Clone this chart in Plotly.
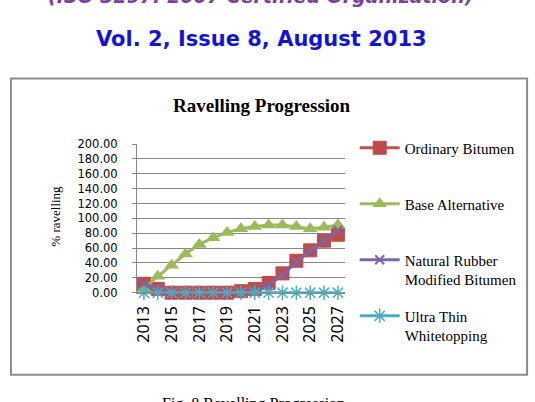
import plotly.graph_objects as go

years = list(range(2013, 2028))
ordinary_bitumen = [12, 5, 0, 0, 0, 0, 0, 2, 5, 13, 26, 43, 57, 70, 78]
base_alternative = [5, 22, 37, 52, 65, 74, 81, 86, 89, 91, 91, 89, 86, 88, 91]
natural_rubber = [12, 5, 0, 0, 0, 0, 0, 0, 2, 10, 24, 41, 56, 69, 84]
ultra_thin = [0] * 15
x_tick_years = [2013, 2015, 2017, 2019, 2021, 2023, 2025, 2027]
y_ticks = [0, 20, 40, 60, 80, 100, 120, 140, 160, 180, 200]

W, H = 535, 402
def px(x):
    return x / W
def py(y):
    return 1 - y / H

fig = go.Figure()
fig.add_trace(go.Scatter(
    x=years, y=ordinary_bitumen, name="Ordinary Bitumen<br> ", mode="lines+markers",
    line=dict(color="#C0504D", width=3),
    marker=dict(symbol="square", size=13, color="#BE4B48", line=dict(color="#BE4B48", width=1)),
    cliponaxis=False, legendgroup="a"))
fig.add_trace(go.Scatter(
    x=years, y=base_alternative, name="Base Alternative<br> ", mode="lines+markers",
    line=dict(color="#9BBB59", width=3),
    marker=dict(symbol="triangle-up", size=13, color="#9BBB59"),
    cliponaxis=False, legendgroup="b"))
fig.add_trace(go.Scatter(
    x=years, y=natural_rubber, name="Natural Rubber<br>Modified Bitumen", mode="lines+markers",
    line=dict(color="#8064A2", width=3),
    marker=dict(symbol="x-thin-open", size=9, line=dict(color="#8064A2", width=2)),
    cliponaxis=False, legendgroup="c"))
fig.add_trace(go.Scatter(
    x=years, y=ultra_thin, name="Ultra Thin<br>Whitetopping", mode="lines+markers",
    line=dict(color="#4BACC6", width=3),
    marker=dict(symbol="asterisk-open", size=12, line=dict(color="#4BACC6", width=1.5)),
    cliponaxis=False, legendgroup="d"))

fig.update_layout(
    width=W, height=H, autosize=False,
    margin=dict(l=0, r=0, t=0, b=0),
    paper_bgcolor="white", plot_bgcolor="white",
    showlegend=True,
    legend=dict(x=px(355), y=py(129), xanchor="left", yanchor="top",
                font=dict(family="Liberation Serif", size=15, color="#000"),
                traceorder="grouped", tracegroupgap=14, valign="top",
                itemwidth=40, bgcolor="rgba(0,0,0,0)"),
    xaxis=dict(domain=[px(134), px(345)], range=[2012.5, 2027.5],
               tickmode="array", tickvals=x_tick_years, ticktext=[str(v) for v in x_tick_years],
               tickangle=-90, showgrid=False, showline=True, linecolor="#878787", linewidth=1,
               ticks="", zeroline=False, ticklabelstandoff=6,
               tickfont=dict(family="Noto Sans", size=16, color="#000")),
    yaxis=dict(domain=[py(296), py(142)], range=[0, 200],
               tickmode="array", tickvals=y_ticks, ticktext=["%.2f" % v for v in y_ticks],
               showgrid=True, gridcolor="#878787", gridwidth=1,
               showline=True, linecolor="#878787", linewidth=1, zeroline=False,
               ticks="outside", ticklen=4, tickcolor="#878787", ticklabelstandoff=12,
               tickfont=dict(family="DejaVu Sans", size=11.5, color="#000")),
)

# chart frame
fig.add_shape(type="rect", xref="paper", yref="paper",
              x0=px(6), x1=px(530), y0=py(381), y1=py(74),
              line=dict(color="#8C8C8C", width=2), layer="below")

ann = []
ann.append(dict(text="<b><i>(ISO 3297: 2007 Certified Organization)</i></b>", x=px(259), y=py(2),
                xanchor="center", yanchor="bottom",
                font=dict(family="DejaVu Sans", size=19, color="#7F3FA0")))
ann.append(dict(text="<b>Vol. 2, Issue 8, August 2013</b>", x=px(260), y=py(33),
                xanchor="center", yanchor="middle",
                font=dict(family="DejaVu Sans", size=21, color="#1414D8")))
ann.append(dict(text="<b>Ravelling Progression</b>", x=px(261), y=py(102),
                xanchor="center", yanchor="middle",
                font=dict(family="Liberation Serif", size=19, color="#000")))
ann.append(dict(text="% ravelling", x=px(51), y=py(217), textangle=-90,
                xanchor="center", yanchor="middle",
                font=dict(family="Liberation Serif", size=13, color="#000")))
ann.append(dict(text="Fig. 8 Ravelling Progression", x=px(252), y=py(400),
                xanchor="center", yanchor="top",
                font=dict(family="Liberation Serif", size=16, color="#000")))
for a in ann:
    a.update(xref="paper", yref="paper", showarrow=False)
fig.update_layout(annotations=ann)

fig.write_html("out.html")
